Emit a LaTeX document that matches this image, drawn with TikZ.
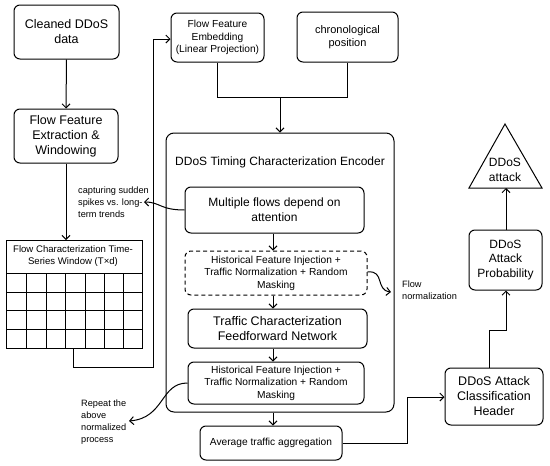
\documentclass[tikz,border=0pt]{standalone}
\usepackage{fontspec}
\setmainfont{Liberation Sans}
\usetikzlibrary{arrows.meta}
\tikzset{
  box/.style={draw, line width=1pt, rounded corners=6pt, align=center, inner sep=0pt},
  big/.style={font=\fontsize{12.5}{15}\selectfont},
  mid/.style={font=\fontsize{10.2}{12.5}\selectfont},
  small/.style={font=\fontsize{9.2}{12}\selectfont},
  arr/.style={line width=1pt, -{Straight Barb[length=4pt,width=8pt]}},
  ln/.style={line width=1pt},
}
\begin{document}
\begin{tikzpicture}[x=1pt,y=-1pt]
\useasboundingbox (0,0) rectangle (550,466);
% left column
\node[box,big,minimum width=105pt,minimum height=54pt] (clean) at (66.5,32) {Cleaned DDoS\\data};
\node[box,big,minimum width=104pt,minimum height=54pt] (extract) at (66,136) {Flow Feature\\Extraction \&\\Windowing};
% grid
\draw[line width=1pt] (6,240) rectangle (142,348);
\coordinate (gridtop) at (66,240);
\coordinate (gridbot) at (73,348);
\node[font=\fontsize{9.6}{12}\selectfont, align=center] (gridlbl) at (73,256) {Flow Characterization Time-\\Series Window (T×d)};
\foreach \y in {273,292,310,329} \draw[line width=1pt] (6,\y) -- (142,\y);
\foreach \x in {26,46,65,85,104,123} \draw[line width=1pt] (\x,273) -- (\x,348);
% top boxes
\node[box,mid,minimum width=93pt,minimum height=49pt] (embed) at (217.5,37.5) {Flow Feature\\Embedding\\(Linear Projection)};
\node[box,font=\fontsize{11}{13.5}\selectfont,minimum width=101pt,minimum height=50pt] (chrono) at (347.5,37) {chronological\\position};
% encoder
\node[box,minimum width=228pt,minimum height=279pt, rounded corners=8pt] (enc) at (280,272.5) {};
\node[font=\fontsize{12}{14}\selectfont] (enctitle) at (280,162) {DDoS Timing Characterization Encoder};
\node[box,font=\fontsize{12}{15}\selectfont,minimum width=179pt,minimum height=46pt] (multi) at (274.5,210) {Multiple flows depend on\\attention};
\node[box,dash pattern=on 4pt off 3pt,mid,minimum width=182pt,minimum height=44pt] (hist1) at (276,273) {Historical Feature Injection +\\Traffic Normalization + Random\\Masking};
\node[box,big,minimum width=179pt,minimum height=39pt] (ffn) at (277.5,328.5) {Traffic Characterization\\Feedforward Network};
\node[box,mid,minimum width=176pt,minimum height=42pt] (hist2) at (276,383) {Historical Feature Injection +\\Traffic Normalization + Random\\Masking};
\node[box,mid,minimum width=142pt,minimum height=34pt] (avg) at (271,443) {Average traffic aggregation};
% right column
\node[box,big,minimum width=98pt,minimum height=57pt] (header) at (494,396.5) {DDoS Attack\\Classification\\Header};
\node[box,font=\fontsize{12}{14.5}\selectfont,minimum width=73pt,minimum height=60pt] (prob) at (505.5,260) {DDoS\\Attack\\Probability};
\draw[line width=1pt] (505,124) -- (542,188) -- (469,188) -- cycle;
\coordinate (tribase) at (506,188);
\node[font=\fontsize{12}{14.5}\selectfont, align=center] (attack) at (505,170) {DDoS\\attack};
% labels
\node[small, align=left, anchor=north west, inner sep=0pt] (caplbl) at (78,187) {capturing sudden\\spikes vs. long-\\term trends};
\node[small, align=left, anchor=north west, inner sep=0pt] (replbl) at (81,400) {Repeat the\\above\\normalized\\process};
\node[small, align=left, anchor=north west, inner sep=0pt] (flowlbl) at (402,281) {Flow\\normalization};
% connectors
\draw[arr] (clean.south) -- (66,108.5);
\draw[arr] (extract.south) -- (gridtop);
\draw[arr] (gridbot) -- (73,367) -- (153,367) -- (153,39) -- (embed.west |- 0,39);
\draw[ln] (embed.south) -- (217.5,97) -- (347.5,97) -- (chrono.south);
\draw[arr] (280,97) -- (enc.north -| 280,0);
\draw[arr] (multi.south -| 273,0) -- (hist1.north -| 273,0);
\draw[arr] (hist1.south -| 273,0) -- (ffn.north -| 273,0);
\draw[arr] (ffn.south -| 273,0) -- (hist2.north -| 273,0);
\draw[arr] (enc.south -| 273,0) -- (avg.north -| 273,0);
\draw[arr] (avg.east) -- (407,443) -- (407,397) -- (header.west |- 0,397);
\draw[arr] (header.north -| 489,0) -- (489,330) -- (506,330) -- (prob.south -| 506,0);
\draw[arr] (prob.north -| 506,0) -- (tribase);
% curved arrows
\draw[arr] (multi.west) .. controls (160,210) and (160,202) .. (144,202);
\draw[arr] (hist1.east |- 0,272) .. controls (385,270) and (375,290) .. (391,292);
\draw[arr] (hist2.west |- 0,383) .. controls (160,383) and (165,418) .. (129,421);
\end{tikzpicture}
\end{document}
